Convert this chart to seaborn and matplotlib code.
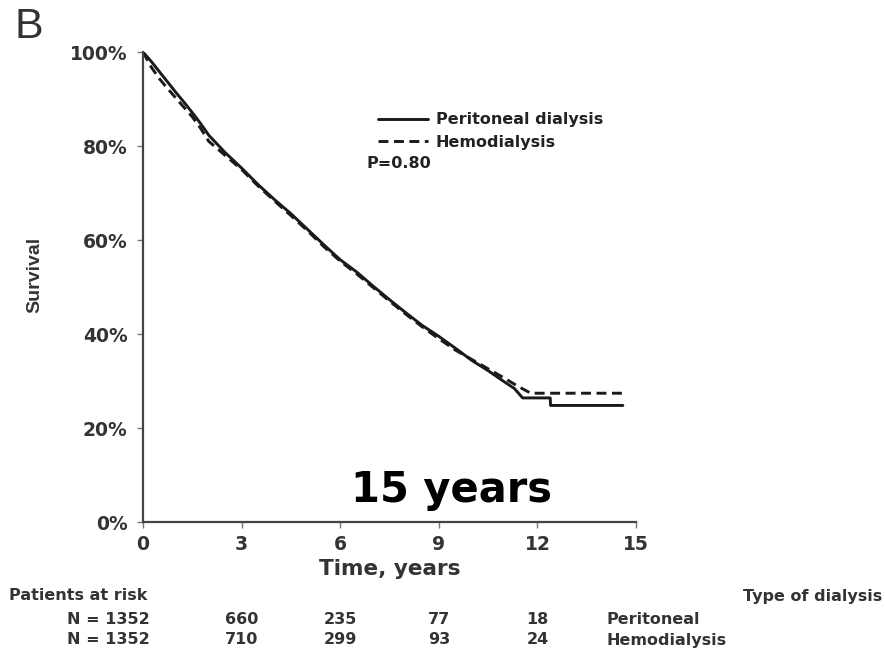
import matplotlib
matplotlib.use("Agg")
import matplotlib.pyplot as plt
import matplotlib.transforms as mtransforms
from matplotlib.ticker import FuncFormatter
import seaborn as sns
import pandas as pd

# ---- data ----
pd_time = [0, 0.25, 0.5, 0.75, 1.0, 1.25, 1.5, 1.75, 2.0, 2.5, 3.0, 3.5, 4.0, 4.5,
           5.0, 5.5, 6.0, 6.5, 7.0, 7.5, 8.0, 8.5, 9.0, 9.5, 10.0, 10.5, 11.0,
           11.3, 11.55, 12.39, 12.4, 14.6]
pd_surv = [100, 98.0, 95.8, 93.6, 91.4, 89.3, 87.1, 84.8, 82.3, 78.6, 75.3, 71.8,
           68.6, 65.6, 62.3, 59.0, 55.8, 53.2, 50.2, 47.3, 44.5, 41.8, 39.5, 37.0,
           34.4, 32.2, 29.8, 28.4, 26.4, 26.4, 24.8, 24.8]
hd_time = [0, 0.25, 0.5, 0.75, 1.0, 1.25, 1.5, 1.75, 2.0, 2.5, 3.0, 3.5, 4.0, 4.5,
           5.0, 5.5, 6.0, 6.5, 7.0, 7.5, 8.0, 8.5, 9.0, 9.5, 10.0, 10.5, 11.0,
           11.4, 11.8, 14.7]
hd_surv = [100, 96.8, 94.3, 92.2, 90.2, 88.2, 86.2, 83.8, 81.0, 78.0, 75.0, 71.5,
           68.3, 65.2, 62.0, 58.6, 55.5, 52.8, 49.9, 47.0, 44.2, 41.5, 39.0, 36.6,
           34.6, 32.6, 30.6, 28.9, 27.4, 27.4]
series_labels = ["Peritoneal dialysis", "Hemodialysis"]
x_ticks = [0, 3, 6, 9, 12, 15]
y_ticks = [0, 20, 40, 60, 80, 100]
risk_times = [3, 6, 9, 12]
risk_pd = [660, 235, 77, 18]
risk_hd = [710, 299, 93, 24]
risk_total = ["N = 1352", "N = 1352"]
risk_names = ["Peritoneal", "Hemodialysis"]
p_text = "P=0.80"
big_text = "15 years"

df = pd.concat([
    pd.DataFrame({"t": pd_time, "s": pd_surv, "g": series_labels[0]}),
    pd.DataFrame({"t": hd_time, "s": hd_surv, "g": series_labels[1]}),
])

sns.set_style("ticks")
plt.rcParams["font.family"] = ["DejaVu Sans"]

W, H = 885, 654
fig = plt.figure(figsize=(W / 100, H / 100), dpi=100)
ax = fig.add_axes([143 / W, 1 - 522 / H, (636 - 143) / W, (522 - 52) / H])

def fx(px):
    return px / W

def fy(py):
    return 1 - py / H

dark = "#1a1a1a"
sns.lineplot(data=df, x="t", y="s", style="g", ax=ax, color=dark, lw=2.1,
             dashes={series_labels[0]: "", series_labels[1]: (3.4, 1.9)},
             style_order=series_labels, legend=True, estimator=None, sort=False)

ax.set_xlim(0, 15)
ax.set_ylim(0, 100)
ax.set_xticks(x_ticks)
ax.set_yticks(y_ticks)
ax.yaxis.set_major_formatter(FuncFormatter(lambda v, p: f"{int(v)}%"))
for s in ["top", "right"]:
    ax.spines[s].set_visible(False)
for s in ["left", "bottom"]:
    ax.spines[s].set_color("#444444")
    ax.spines[s].set_linewidth(1.6)
ax.tick_params(axis="both", length=4, width=1.0, color="#777777",
               labelsize=13.5, labelcolor="#333333", pad=7)
ax.tick_params(axis="x", pad=5)
for lab in ax.get_xticklabels() + ax.get_yticklabels():
    lab.set_fontweight("bold")
ax.set_xlabel("")
ax.set_ylabel("")

# legend
handles, labels = ax.get_legend_handles_labels()
leg = ax.legend(handles, labels, loc="upper left", frameon=False,
                bbox_to_anchor=(fx(364), fy(98)), bbox_transform=fig.transFigure,
                handlelength=3.1, handletextpad=0.5, labelspacing=0.45,
                prop={"weight": "bold", "size": 11.5})
for t in leg.get_texts():
    t.set_color("#222222")
fig.text(fx(367), fy(163), p_text, fontsize=11.5, fontweight="bold",
         color="#222222", va="center", ha="left")

# big annotation
fig.text(fx(451), fy(490), big_text, fontsize=30, fontweight="bold",
         color="black", ha="center", va="center")

# panel letter
fig.text(fx(14), fy(27), "B", fontsize=31, family="Liberation Sans",
         color="#333333", ha="left", va="center")

# axis titles
fig.text(fx(35), fy(275), "Survival", rotation=90, fontsize=14,
         family="Liberation Sans", fontweight="bold", color="#333333",
         ha="center", va="center")
fig.text(fx(390), fy(569), "Time, years", fontsize=15.5, fontweight="bold",
         color="#333333", ha="center", va="center")

# risk table
fig.text(fx(9), fy(596), "Patients at risk", fontsize=11.5, fontweight="bold",
         color="#333333", ha="left", va="center")
fig.text(fx(882), fy(596), "Type of dialysis", fontsize=11.5, fontweight="bold",
         color="#333333", ha="right", va="center")
trans = mtransforms.blended_transform_factory(ax.transData, fig.transFigure)
for row_y, tot, vals, name in [(619, risk_total[0], risk_pd, risk_names[0]),
                               (640, risk_total[1], risk_hd, risk_names[1])]:
    fig.text(fx(150), fy(row_y), tot, fontsize=11.5, fontweight="bold",
             color="#333333", ha="right", va="center")
    for tt, v in zip(risk_times, vals):
        ax.text(tt, fy(row_y), str(v), transform=trans, fontsize=11.5,
                fontweight="bold", color="#333333", ha="center", va="center")
    fig.text(fx(607), fy(row_y), name, fontsize=11.5, fontweight="bold",
             color="#333333", ha="left", va="center")

fig.savefig("out.png", dpi=100, facecolor="white")
